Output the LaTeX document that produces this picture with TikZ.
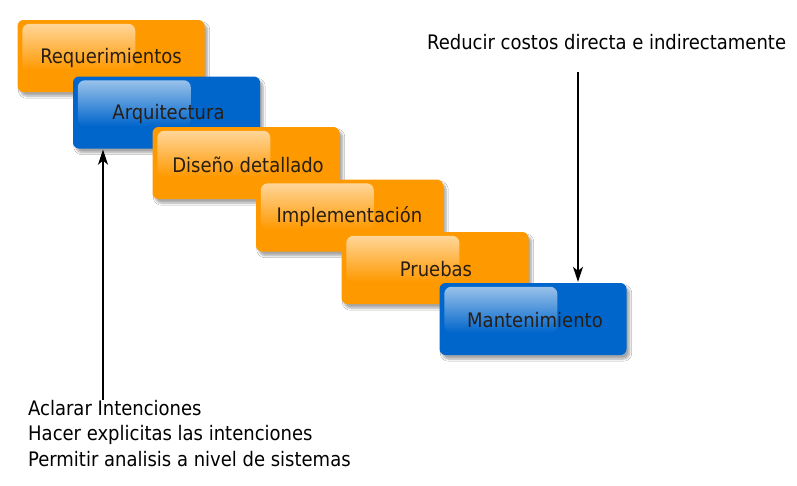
\documentclass[tikz,border=0pt]{standalone}
\usepackage{fontspec}
\setmainfont{DejaVu Sans Condensed}
\usetikzlibrary{arrows.meta,shadows.blur,fadings,calc}
\definecolor{orng}{RGB}{255,153,0}
\definecolor{blu}{RGB}{0,102,204}
\definecolor{txt}{RGB}{40,30,20}
\tikzset{
  stage/.style={rounded corners=6pt, minimum width=187pt, minimum height=72pt,
    inner sep=0pt, text=txt,
    blur shadow={shadow xshift=3pt, shadow yshift=-4pt, shadow blur steps=6, shadow opacity=35}},
  orangebox/.style={stage, fill=orng},
  bluebox/.style={stage, fill=blu},
  shine/.style={white, rounded corners=7pt, path fading=south, fill opacity=0.6},
  note/.style={font=\fontsize{20}{25.5}\selectfont, text=black, inner sep=0pt},
  arr/.style={draw=black, line width=1.2pt, -{Stealth[length=15pt,width=10pt,inset=4pt]}}
}
\newcommand{\stagebox}[5]{%
  \node[#1] (#2) at (#3) {};
  \fill[shine] ($(#2.north west)+(5,4)$) rectangle ($(#2.north west)+(118,50)$);
  \node[font=\fontsize{20}{22}\selectfont, text=txt] at ($(#2.center)+(#4,1.5)$) {#5};
}
\begin{document}
\begin{tikzpicture}[x=1pt,y=-1pt]
\useasboundingbox (0,0) rectangle (797,485);
\fill[white] (0,0) rectangle (797,485);
\stagebox{orangebox}{req}{111,56}{0}{Requerimientos}
\stagebox{bluebox}{arq}{166.5,112.5}{2}{Arquitectura}
\stagebox{orangebox}{dis}{246,163}{2}{Diseño detallado}
\stagebox{orangebox}{imp}{349.5,215.5}{0}{Implementación}
\stagebox{orangebox}{pru}{435,268}{1}{Pruebas}
\stagebox{bluebox}{man}{533,319}{2}{Mantenimiento}
\node[note, anchor=west] (red) at (427,42) {Reducir costos directa e indirectamente};
\node[note, anchor=north west, align=left] (acl) at (28,400)
  {Aclarar Intenciones\\Hacer explicitas las intenciones\\Permitir analisis a nivel de sistemas};
\coordinate (ls) at (103,400);
\coordinate (rs) at (578,72);
\draw[arr] (ls) -- ($(ls |- arq.south)+(0,1)$);
\draw[arr] (rs) -- ($(rs |- man.north)+(0,-1)$);
\end{tikzpicture}
\end{document}
